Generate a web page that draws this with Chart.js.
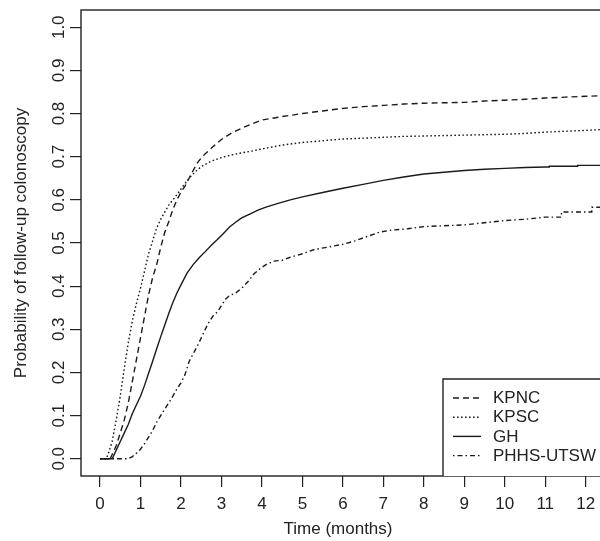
<!DOCTYPE html>
<html>
<head>
<meta charset="utf-8">
<script src="https://cdn.jsdelivr.net/npm/chart.js@4.4.1/dist/chart.umd.min.js"></script>
<style>
  html, body { margin: 0; padding: 0; background: #fff; }
  #wrap { width: 600px; height: 541px; overflow: hidden; position: relative; }
  canvas { display: block; }
</style>
</head>
<body>
<div id="wrap"><canvas id="c" width="620" height="541"></canvas></div>
<script>
// ---- data ----
const seriesNames = ["KPNC", "KPSC", "GH", "PHHS-UTSW"];

const kpncT = [0, 0.25, 0.3, 0.4, 0.5, 0.6, 0.7, 0.8, 0.9, 1.0, 1.1, 1.2, 1.3, 1.4, 1.5, 1.6, 1.7, 1.8, 1.9, 2.0, 2.1, 2.2, 2.3, 2.4, 2.5, 2.6, 2.8, 3.0, 3.25, 3.5, 3.75, 4.0, 4.5, 5.0, 5.5, 6.0, 6.5, 7.0, 7.5, 8.0, 8.5, 9.0, 9.5, 10.0, 10.5, 11.0, 11.5, 12.0, 12.6];
const kpncP = [0, 0, 0.01, 0.03, 0.06, 0.09, 0.13, 0.18, 0.23, 0.28, 0.33, 0.38, 0.42, 0.45, 0.49, 0.525, 0.55, 0.578, 0.60, 0.618, 0.632, 0.65, 0.668, 0.685, 0.697, 0.707, 0.724, 0.74, 0.755, 0.766, 0.776, 0.785, 0.793, 0.80, 0.806, 0.812, 0.816, 0.819, 0.822, 0.824, 0.825, 0.826, 0.829, 0.831, 0.833, 0.836, 0.838, 0.84, 0.842];

const kpscT = [0, 0.15, 0.2, 0.3, 0.4, 0.5, 0.6, 0.7, 0.8, 0.9, 1.0, 1.1, 1.2, 1.3, 1.4, 1.5, 1.6, 1.7, 1.8, 1.9, 2.0, 2.1, 2.2, 2.35, 2.5, 2.75, 3.0, 3.25, 3.5, 3.75, 4.0, 4.5, 5.0, 5.5, 6.0, 6.5, 7.0, 7.5, 8.0, 8.5, 9.0, 9.5, 10.0, 10.5, 11.0, 11.5, 12.0, 12.6];
const kpscP = [0, 0, 0.01, 0.04, 0.09, 0.145, 0.21, 0.27, 0.32, 0.36, 0.395, 0.435, 0.475, 0.505, 0.535, 0.555, 0.572, 0.588, 0.60, 0.612, 0.625, 0.638, 0.65, 0.665, 0.677, 0.69, 0.698, 0.704, 0.709, 0.713, 0.718, 0.727, 0.733, 0.737, 0.741, 0.743, 0.745, 0.747, 0.748, 0.749, 0.75, 0.751, 0.752, 0.754, 0.757, 0.759, 0.761, 0.764];

const ghT = [0, 0.3, 0.4, 0.5, 0.6, 0.7, 0.8, 0.9, 1.0, 1.1, 1.2, 1.3, 1.4, 1.5, 1.6, 1.7, 1.8, 1.9, 2.0, 2.15, 2.3, 2.45, 2.6, 2.75, 2.9, 3.05, 3.2, 3.35, 3.5, 3.7, 3.9, 4.1, 4.4, 4.7, 5.0, 5.5, 6.0, 6.5, 7.0, 7.5, 8.0, 8.5, 9.0, 9.5, 10.0, 10.5, 11.0, 11.1, 11.1, 11.8, 11.8, 12.6];
const ghP = [0, 0, 0.02, 0.04, 0.06, 0.08, 0.105, 0.125, 0.145, 0.17, 0.198, 0.226, 0.255, 0.283, 0.31, 0.337, 0.362, 0.384, 0.403, 0.43, 0.45, 0.466, 0.48, 0.495, 0.508, 0.522, 0.537, 0.548, 0.558, 0.567, 0.576, 0.583, 0.592, 0.60, 0.607, 0.617, 0.627, 0.636, 0.645, 0.653, 0.66, 0.664, 0.668, 0.671, 0.673, 0.675, 0.676, 0.676, 0.678, 0.678, 0.68, 0.68];

const phhsT = [0, 0.7, 0.8, 0.9, 1.0, 1.1, 1.2, 1.3, 1.4, 1.5, 1.6, 1.7, 1.8, 1.9, 2.0, 2.1, 2.2, 2.3, 2.4, 2.5, 2.6, 2.7, 2.8, 2.9, 3.0, 3.1, 3.2, 3.35, 3.5, 3.65, 3.8, 3.95, 4.1, 4.3, 4.5, 4.7, 5.0, 5.3, 5.6, 6.0, 6.3, 6.6, 6.9, 7.2, 7.6, 8.0, 8.5, 9.0, 9.5, 10.0, 10.5, 11.0, 11.4, 11.4, 12.15, 12.15, 12.6];
const phhsP = [0, 0, 0.005, 0.013, 0.022, 0.035, 0.05, 0.065, 0.085, 0.10, 0.115, 0.13, 0.145, 0.162, 0.176, 0.195, 0.225, 0.243, 0.26, 0.28, 0.30, 0.318, 0.332, 0.34, 0.355, 0.37, 0.378, 0.384, 0.395, 0.41, 0.428, 0.44, 0.45, 0.458, 0.46, 0.467, 0.475, 0.485, 0.49, 0.497, 0.505, 0.515, 0.525, 0.53, 0.533, 0.538, 0.54, 0.542, 0.547, 0.552, 0.555, 0.56, 0.56, 0.572, 0.572, 0.583, 0.583];

const xTicks = [0, 1, 2, 3, 4, 5, 6, 7, 8, 9, 10, 11, 12];
const yTicks = [0.0, 0.1, 0.2, 0.3, 0.4, 0.5, 0.6, 0.7, 0.8, 0.9, 1.0];
const xTitle = "Time (months)";
const yTitle = "Probability of follow-up colonoscopy";

// ---- build ----
const FONT = '"Liberation Sans", Arial, Helvetica, sans-serif';
const INK = '#1a1a1a';
const dashes = [[6, 4], [1.6, 2.4], [], [1.5, 3, 5, 3]];
const times = [kpncT, kpscT, ghT, phhsT];
const probs = [kpncP, kpscP, ghP, phhsP];

const datasets = seriesNames.map((name, i) => ({
  label: name,
  data: times[i].map((t, j) => ({ x: t, y: probs[i][j] })),
  borderColor: INK,
  borderWidth: 1.4,
  borderDash: dashes[i],
  tension: 0,
  fill: false,
  pointRadius: 0
}));

const decor = {
  id: 'decor',
  afterDraw(chart) {
    const ctx = chart.ctx;
    const a = chart.chartArea;
    const xs = chart.scales.x, ys = chart.scales.y;
    ctx.save();
    // frame
    ctx.strokeStyle = '#222';
    ctx.lineWidth = 1.4;
    ctx.setLineDash([]);
    ctx.strokeRect(a.left, a.top, a.right - a.left, a.bottom - a.top);

    ctx.fillStyle = '#222';
    // x tick labels
    ctx.font = '17px ' + FONT;
    ctx.textAlign = 'center';
    ctx.textBaseline = 'alphabetic';
    xTicks.forEach(v => ctx.fillText(String(v), xs.getPixelForValue(v), 509));
    // y tick labels (rotated)
    yTicks.forEach(v => {
      ctx.save();
      ctx.translate(64, ys.getPixelForValue(v));
      ctx.rotate(-Math.PI / 2);
      ctx.textAlign = 'center';
      ctx.fillText(v.toFixed(1), 0, 0);
      ctx.restore();
    });
    // titles
    ctx.font = '17px ' + FONT;
    ctx.textAlign = 'center';
    ctx.fillText(xTitle, 338, 534);
    ctx.save();
    ctx.translate(26, ys.getPixelForValue(0.5));
    ctx.rotate(-Math.PI / 2);
    ctx.fillText(yTitle, 0, 0);
    ctx.restore();

    // legend
    const lx = 443, ly = 379;
    ctx.fillStyle = '#fff';
    ctx.fillRect(lx, ly, 700, a.bottom - ly);
    ctx.strokeStyle = '#222';
    ctx.lineWidth = 1.4;
    ctx.beginPath();
    ctx.moveTo(lx, a.bottom);
    ctx.lineTo(lx, ly);
    ctx.lineTo(chart.width, ly);
    ctx.stroke();
    ctx.font = '17px ' + FONT;
    ctx.textAlign = 'left';
    ctx.textBaseline = 'middle';
    ctx.fillStyle = '#222';
    seriesNames.forEach((name, i) => {
      const y = 398 + i * 19.2;
      ctx.strokeStyle = INK;
      ctx.lineWidth = 1.4;
      ctx.setLineDash(dashes[i]);
      ctx.beginPath();
      ctx.moveTo(453, y);
      ctx.lineTo(481, y);
      ctx.stroke();
      ctx.setLineDash([]);
      ctx.fillText(name, 493, y + 0.5);
    });
    ctx.restore();
  }
};

new Chart(document.getElementById('c'), {
  type: 'line',
  data: { datasets },
  options: {
    responsive: false,
    animation: false,
    layout: { padding: { top: 10, right: 10, left: 0, bottom: 0 } },
    plugins: { legend: { display: false }, tooltip: { enabled: false } },
    scales: {
      x: {
        type: 'linear',
        min: -0.47,
        max: 12.6,
        afterBuildTicks: s => { s.ticks = xTicks.map(v => ({ value: v })); },
        afterFit: s => { s.height = 65; },
        ticks: { display: false },
        grid: { drawOnChartArea: false, drawTicks: true, tickLength: 11, color: '#222', lineWidth: 1.2 },
        border: { display: false }
      },
      y: {
        type: 'linear',
        min: -0.04,
        max: 1.04,
        afterBuildTicks: s => { s.ticks = yTicks.map(v => ({ value: v })); },
        afterFit: s => { s.width = 81; },
        ticks: { display: false },
        grid: { drawOnChartArea: false, drawTicks: true, tickLength: 11, color: '#222', lineWidth: 1.2 },
        border: { display: false }
      }
    }
  },
  plugins: [decor]
});
</script>
</body>
</html>
